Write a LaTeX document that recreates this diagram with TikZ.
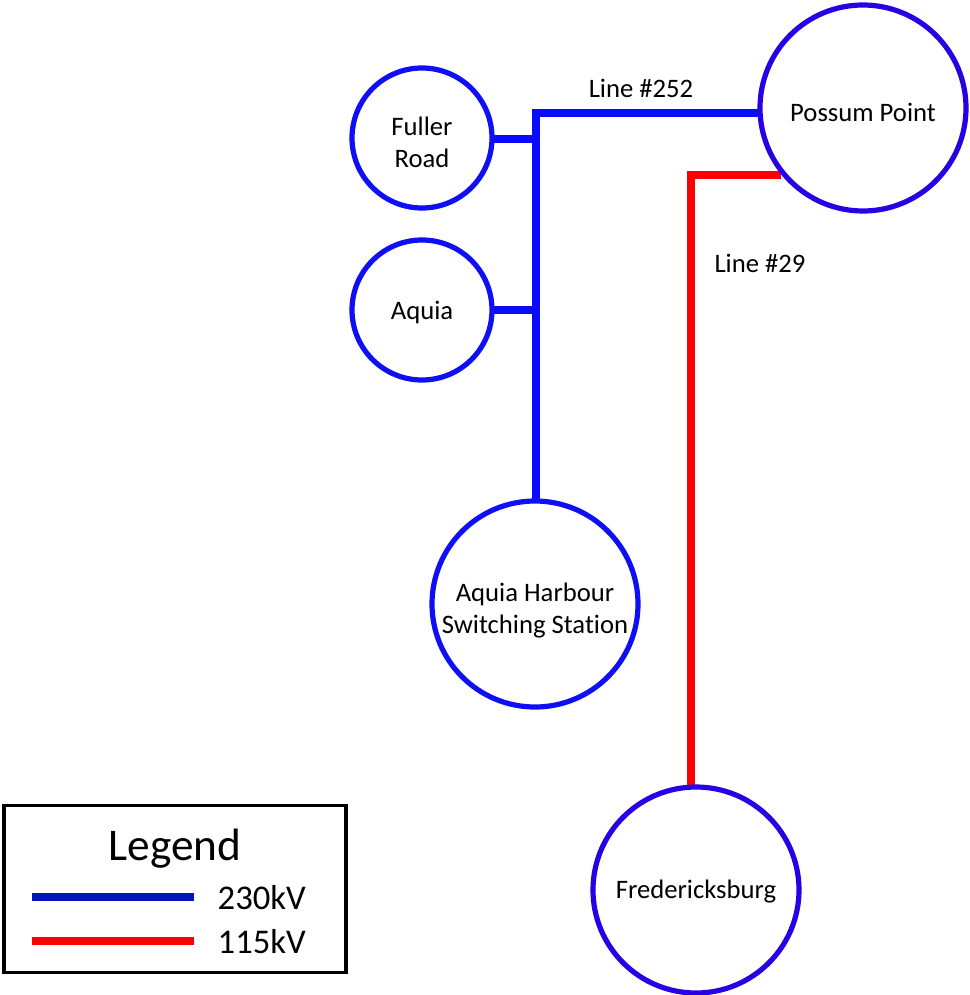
\documentclass[tikz,border=0pt]{standalone}
\usepackage{fontspec}
\setmainfont{Carlito}[Ligatures={NoCommon}]
\definecolor{lineblue}{RGB}{10,10,255}
\definecolor{ringblue}{RGB}{15,15,245}
\definecolor{ringpurple}{RGB}{40,0,230}
\definecolor{legblue}{RGB}{5,20,185}
\definecolor{linered}{RGB}{255,0,0}
\begin{document}
\begin{tikzpicture}[x=0.75pt,y=-0.75pt,
  small/.style={circle,draw=ringblue,line width=3.9pt,fill=white,inner sep=0pt,
    minimum size=140*0.75pt},
  big/.style={circle,draw=#1,line width=3.9pt,fill=white,inner sep=0pt,
    minimum size=206*0.75pt},
  txt/.style={align=center,font=\fontsize{20}{24}\selectfont},
  hv/.style={draw=lineblue,line width=6pt},
  hvstub/.style={draw=lineblue,line width=5.4pt},
  lv/.style={draw=linered,line width=5.4pt},
  lbl/.style={font=\fontsize{20}{24}\selectfont}]
\useasboundingbox (0,0) rectangle (970,995);
% junction coordinates
\coordinate (jtop) at (536,113);
\coordinate (jf) at (536,139);
\coordinate (ja) at (536,310);
\coordinate (rc) at (691,175);
% lines (drawn first, circles above)
\path[hv] (536,501) -- (jtop) -- (760,113);
\path[hvstub] (490,139) -- (jf);
\path[hvstub] (490,310) -- (ja);
\path[lv] (781,175) -- (rc) -- (691,787);
% stations
\node[small] (fuller) at (422,138) {};
\node[small] (aquia) at (422,310) {};
\node[big=ringpurple] (possum) at (863,108) {};
\node[big=ringblue] (harbour) at (535,604) {};
\node[big=ringpurple] (fred) at (696,890) {};
\node[txt] (tfuller) at (422,142) {Fuller\\Road};
\node[txt] (taquia) at (422,312) {Aquia};
\node[txt] (tpossum) at (863,112) {Possum Point};
\node[txt] (tharbour) at (535,611) {Aquia Harbour\\Switching Station};
\node[txt] (tfred) at (696,892) {Fredericksburg};
% labels
\node[lbl] (l252) at (641,88) {Line \#252};
\node[lbl] (l29) at (760,263) {Line \#29};
% legend
\node[draw=black,line width=2.4pt,minimum width=342*0.75pt,minimum height=167*0.75pt,inner sep=0pt] (legbox) at (175,889) {};
\node[font=\fontsize{34}{40}\selectfont] (legtitle) at (175,849) {Legend};
\coordinate (b1) at (32,897);
\coordinate (b2) at (194,897);
\coordinate (r1) at (32,941);
\coordinate (r2) at (194,941);
\draw[draw=legblue,line width=6pt] (b1) -- (b2);
\draw[draw=linered,line width=6pt] (r1) -- (r2);
\node[font=\fontsize{26}{30}\selectfont,anchor=west] (k230) at (213,898) {230kV};
\node[font=\fontsize{26}{30}\selectfont,anchor=west] (k115) at (213,942) {115kV};
\end{tikzpicture}
\end{document}
